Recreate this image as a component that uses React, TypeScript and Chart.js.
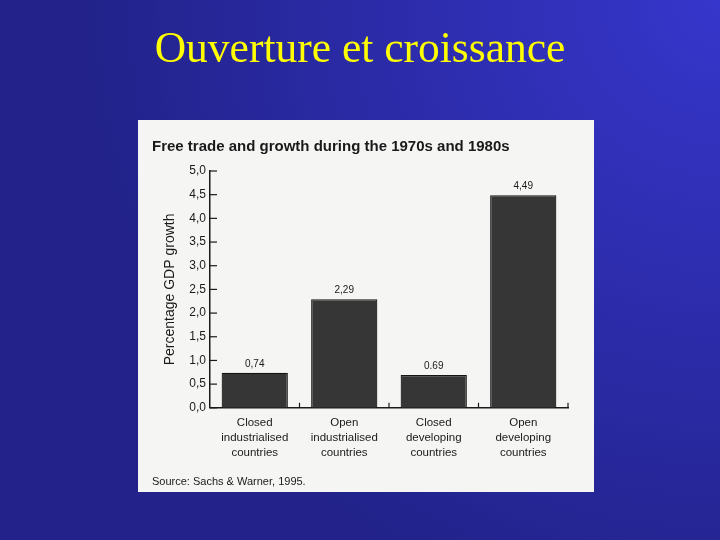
import React, { useEffect, useRef } from "react";
import { Chart, registerables } from "chart.js";

Chart.register(...registerables);

const slideTitle = "Ouverture et croissance";
const chartTitle = "Free trade and growth during the 1970s and 1980s";
const yAxisTitle = "Percentage GDP growth";
const sourceNote = "Source: Sachs & Warner, 1995.";
const categories = [
  ["Closed", "industrialised", "countries"],
  ["Open", "industrialised", "countries"],
  ["Closed", "developing", "countries"],
  ["Open", "developing", "countries"],
];
const growth = [0.74, 2.29, 0.69, 4.49];
const valueLabels = ["0,74", "2,29", "0.69", "4,49"];
const yMin = 0;
const yMax = 5;
const yStep = 0.5;

const SANS = "'Liberation Sans', Arial, sans-serif";
const INK = "#1a1a1a";

const valueLabelPlugin = {
  id: "valueLabels",
  afterDatasetsDraw(chart: any) {
    const ctx = chart.ctx;
    const meta = chart.getDatasetMeta(0);
    ctx.save();
    ctx.fillStyle = INK;
    ctx.font = `10px ${SANS}`;
    ctx.textAlign = "center";
    ctx.textBaseline = "middle";
    meta.data.forEach((bar: any, i: number) => {
      ctx.fillText(valueLabels[i], bar.x, bar.y - 9);
    });
    ctx.restore();
  },
};

const innerTicksPlugin = {
  id: "innerTicks",
  afterDraw(chart: any) {
    const ctx = chart.ctx;
    const area = chart.chartArea;
    const ys = chart.scales.y;
    const xs = chart.scales.x;
    ctx.save();
    ctx.strokeStyle = INK;
    ctx.lineWidth = 1.2;
    ys.ticks.forEach((t: any) => {
      const y = ys.getPixelForValue(t.value);
      ctx.beginPath();
      ctx.moveTo(area.left, y);
      ctx.lineTo(area.left + 7, y);
      ctx.stroke();
    });
    for (let i = 0; i < categories.length; i++) {
      const x = xs.getPixelForValue(i + 0.5);
      ctx.beginPath();
      ctx.moveTo(x, area.bottom);
      ctx.lineTo(x, area.bottom - 5);
      ctx.stroke();
    }
    ctx.restore();
  },
};

function GrowthChart() {
  const ref = useRef<HTMLCanvasElement | null>(null);
  useEffect(() => {
    if (!ref.current) return;
    const chart = new Chart(ref.current, {
      type: "bar",
      data: {
        labels: categories,
        datasets: [
          {
            data: growth,
            backgroundColor: "#363636",
            borderColor: "#141414",
            borderWidth: 1.2,
            barPercentage: 0.74,
            categoryPercentage: 1,
          },
        ],
      },
      options: {
        animation: false,
        responsive: false,
        layout: { padding: { left: 14, right: 26, top: 0, bottom: 0 } },
        plugins: {
          legend: { display: false },
          tooltip: { enabled: false },
          title: {
            display: true,
            text: chartTitle,
            align: "start",
            color: INK,
            font: { family: SANS, size: 15, weight: "bold", lineHeight: 1.2 },
            padding: { top: 18, bottom: 15 },
          },
          subtitle: {
            display: true,
            text: sourceNote,
            position: "bottom",
            align: "start",
            color: INK,
            font: { family: SANS, size: 11, lineHeight: 1.2 },
            padding: { top: 0, bottom: 3 },
          },
        },
        scales: {
          x: {
            grid: { display: false, drawTicks: false },
            border: { display: true, color: INK, width: 1.5 },
            ticks: {
              color: INK,
              padding: 8,
              maxRotation: 0,
              autoSkip: false,
              font: { family: SANS, size: 11.5, lineHeight: 15 / 11.5 },
            },
            afterFit(scale: any) {
              scale.height = 68;
            },
          },
          y: {
            min: yMin,
            max: yMax,
            grid: { display: false, drawTicks: false },
            border: { display: true, color: INK, width: 1.5 },
            ticks: {
              stepSize: yStep,
              color: INK,
              padding: 4,
              font: { family: SANS, size: 12 },
              callback: (v: any) => Number(v).toFixed(1).replace(".", ","),
            },
            title: {
              display: true,
              text: yAxisTitle,
              color: INK,
              font: { family: SANS, size: 14, lineHeight: 1.2 },
              padding: { top: 10, bottom: 0 },
            },
            afterFit(scale: any) {
              scale.width = 58;
            },
          },
        },
      },
      plugins: [valueLabelPlugin, innerTicksPlugin],
    } as any);
    return () => chart.destroy();
  }, []);
  return (
    <canvas
      ref={ref}
      width={456}
      height={372}
      style={{ position: "absolute", left: 138, top: 120, width: 456, height: 372, background: "#f5f5f4" }}
    />
  );
}

export default function App() {
  return (
    <div
      style={{
        position: "fixed",
        left: 0,
        top: 0,
        width: 720,
        height: 540,
        overflow: "hidden",
        background: "radial-gradient(circle 640px at 720px 0px, #3636cc 0%, #22228a 100%)",
      }}
    >
      <div
        style={{
          position: "absolute",
          top: 25,
          left: 0,
          width: 720,
          textAlign: "center",
          fontFamily: "'Liberation Serif', 'Times New Roman', serif",
          fontSize: 43.5,
          lineHeight: "44px",
          color: "#ffff00",
        }}
      >
        {slideTitle}
      </div>
      <GrowthChart />
    </div>
  );
}
